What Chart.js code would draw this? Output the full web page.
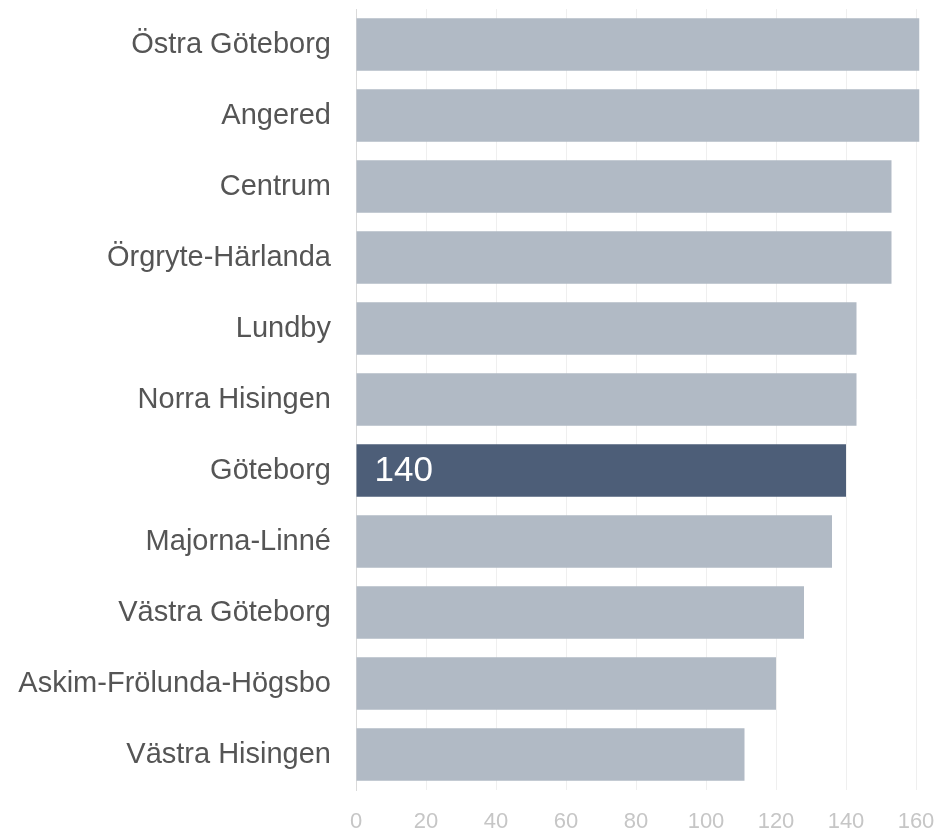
<!DOCTYPE html>
<html>
<head>
<meta charset="utf-8">
<script src="https://cdn.jsdelivr.net/npm/chart.js@4"></script>
<style>
  html, body { margin: 0; padding: 0; background: #fff; }
  #wrap { width: 940px; height: 830px; }
</style>
</head>
<body>
<div id="wrap"><canvas id="chart" width="940" height="830"></canvas></div>
<script>
const districts = [
  "Östra Göteborg", "Angered", "Centrum", "Örgryte-Härlanda", "Lundby",
  "Norra Hisingen", "Göteborg", "Majorna-Linné", "Västra Göteborg",
  "Askim-Frölunda-Högsbo", "Västra Hisingen",
];
const values = [161, 161, 153, 153, 143, 143, 140, 136, 128, 120, 111];
const xTicks = [0, 20, 40, 60, 80, 100, 120, 140, 160];
const highlight = "Göteborg";

const GREY = "#b1bac5", DARK = "#4d5e78";
const FONT = "'Liberation Sans', Arial, sans-serif";

// writes the value inside the highlighted bar, near its base
const valueLabel = {
  id: "valueLabel",
  afterDatasetsDraw(chart) {
    const i = districts.indexOf(highlight);
    const bar = chart.getDatasetMeta(0).data[i];
    if (!bar) return;
    const { ctx } = chart;
    ctx.save();
    ctx.font = `35px ${FONT}`;
    ctx.fillStyle = "#ffffff";
    ctx.textAlign = "left";
    ctx.textBaseline = "middle";
    ctx.fillText(String(values[i]), bar.base + 18, bar.y + 1);
    ctx.restore();
  },
};

new Chart(document.getElementById("chart"), {
  type: "bar",
  data: {
    labels: districts,
    datasets: [{
      data: values,
      backgroundColor: districts.map(d => d === highlight ? DARK : GREY),
      borderWidth: 0,
      barPercentage: 0.742,
      categoryPercentage: 1,
    }],
  },
  options: {
    indexAxis: "y",
    responsive: false,
    animation: false,
    layout: { padding: { top: 9, right: 20.5, bottom: 0, left: 0 } },
    plugins: { legend: { display: false }, tooltip: { enabled: false } },
    scales: {
      x: {
        min: 0,
        max: 161,
        afterBuildTicks: s => { s.ticks = xTicks.map(v => ({ value: v })); },
        afterFit: s => {
          s.height = 40;
          s.paddingLeft = 0;
          s.paddingRight = 0;
        },
        grid: { color: "#efefef", lineWidth: 1, drawTicks: false },
        border: { display: false },
        ticks: { color: "#c6c6c6", padding: 19, font: { family: FONT, size: 22 } },
      },
      y: {
        afterFit: s => {
          s.width = 356;
          s.paddingTop = 0;
          s.paddingBottom = 0;
        },
        grid: { display: false, drawTicks: false },
        border: { display: true, color: "#dadada", width: 1 },
        ticks: { color: "#555555", padding: 25, font: { family: FONT, size: 29 } },
      },
    },
  },
  plugins: [valueLabel],
});
</script>
</body>
</html>
